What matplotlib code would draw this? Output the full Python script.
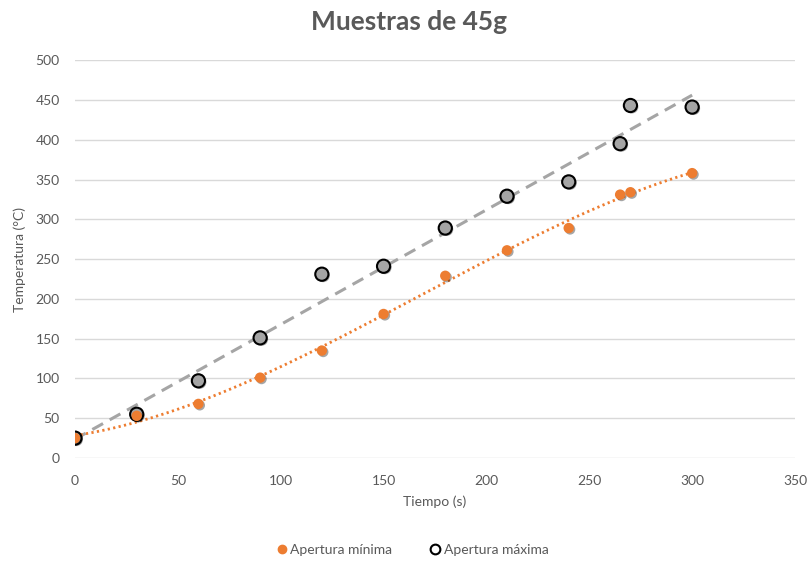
import matplotlib
matplotlib.use("Agg")
import matplotlib.pyplot as plt
import matplotlib.patheffects as pe
import numpy as np

plt.rcParams["font.family"] = ["Lato", "DejaVu Sans"]

# tiempo (s) de cada lectura
tiempo = [0, 30, 60, 90, 120, 150, 180, 210, 240, 265, 270, 300]
# temperatura (°C) con apertura mínima y máxima
t_min = [25, 53, 68, 101, 135, 181, 229, 261, 289, 331, 334, 358]
t_max = [25, 55, 97, 151, 231, 241, 289, 329, 347, 395, 443, 441]

naranja = "#ed7d31"
gris = "#a5a5a5"
texto = "#595959"

fig = plt.figure(figsize=(8.09, 5.62), dpi=100)
ax = fig.add_axes([0.0927, 0.185, 0.89, 0.708])

x = np.array(tiempo, dtype=float)
xs = np.linspace(x.min(), x.max(), 200)

# líneas de tendencia: lineal para máxima, polinómica de grado 3 para mínima
p_max = np.polyfit(x, t_max, 1)
p_min = np.polyfit(x, t_min, 3)
ax.plot(xs, np.polyval(p_max, xs), color=gris, lw=2.2, ls=(0, (4, 2.5)), zorder=2)
ax.plot(xs, np.polyval(p_min, xs), color=naranja, lw=2.0, ls=(0, (0.8, 1.2)), zorder=2)

sombra = [pe.SimplePatchShadow(offset=(1.0, -1.0), alpha=0.35, shadow_rgbFace="black"), pe.Normal()]
ax.plot(x, t_max, ls="none", marker="o", ms=9.5, mfc=gris, mec="black", mew=1.5,
        path_effects=sombra, zorder=3)
ax.plot(x, t_min, ls="none", marker="o", ms=7.5, mfc=naranja, mec=naranja, mew=0,
        path_effects=sombra, zorder=4)

ax.set_xlim(0, 350)
ax.set_ylim(0, 500)
ax.set_xticks(np.arange(0, 351, 50))
ax.set_yticks(np.arange(0, 501, 50))
ax.grid(axis="y", color="#d9d9d9", lw=1)
ax.set_axisbelow(True)
for s in ax.spines.values():
    s.set_visible(False)
ax.tick_params(axis="y", length=0, labelsize=10, colors=texto, pad=11)
ax.tick_params(axis="x", length=0, labelsize=10, colors=texto, pad=12)

ax.set_xlabel("Tiempo (s)", fontsize=10, color=texto, labelpad=6)
ax.set_ylabel("Temperatura (°C)", fontsize=10, color=texto, labelpad=7)
fig.text(0.506, 0.961, "Muestras de 45g", fontsize=19, fontweight="bold", color=texto,
         ha="center", va="center")

h1, = ax.plot([], [], ls="none", marker="o", ms=6, mfc=naranja, mec=naranja)
h2, = ax.plot([], [], ls="none", marker="o", ms=7, mfc="white", mec="black", mew=1.5)
fig.legend([h1, h2], ["Apertura mínima", "Apertura máxima"], loc="center",
           bbox_to_anchor=(0.509, 0.022), ncol=2, frameon=False, fontsize=10,
           handletextpad=0.1, columnspacing=2.6, labelcolor=texto, handlelength=1)

fig.savefig("out.png", dpi=100)
